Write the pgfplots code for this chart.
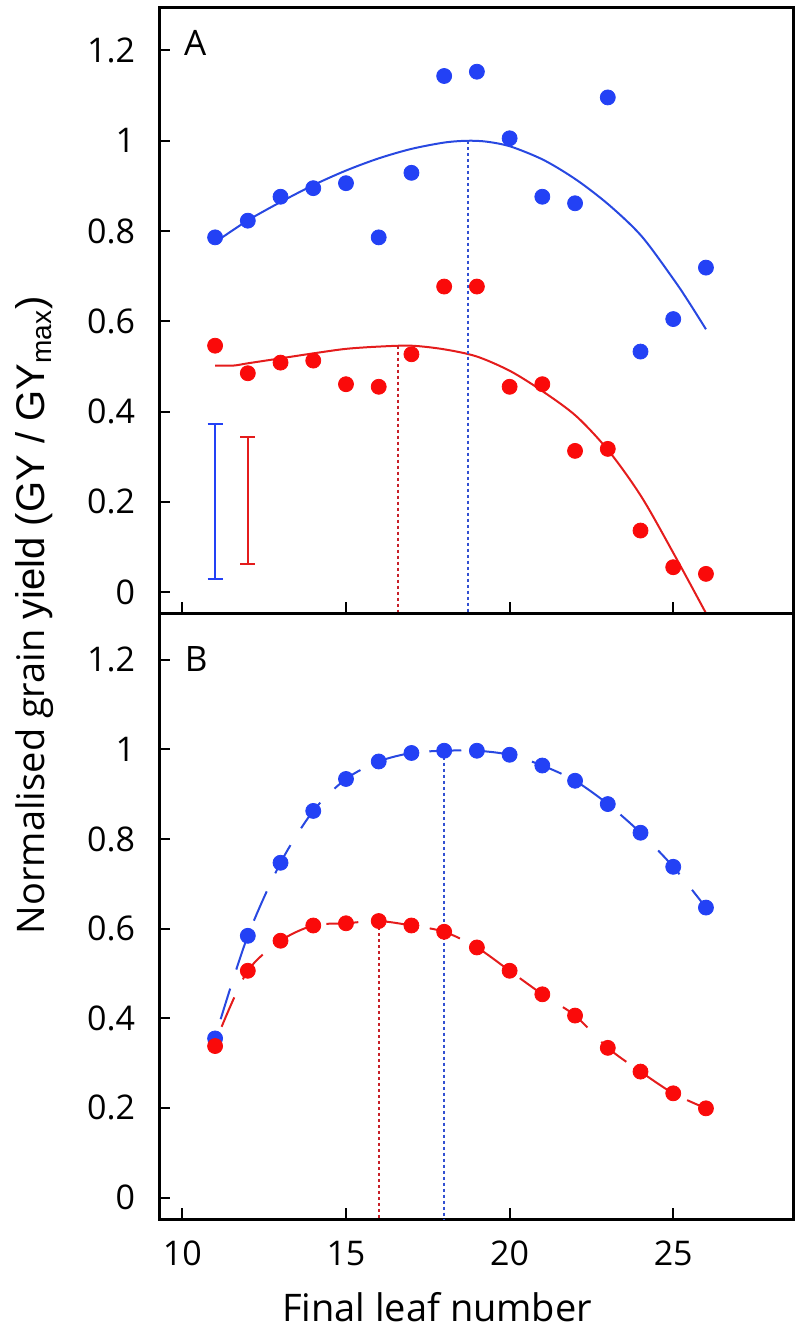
\documentclass[border=0pt]{standalone}
\usepackage{pgfplots}
\pgfplotsset{compat=1.18}
\usepackage{fontspec}
\setmainfont{Open Sans}
\newfontfamily\arialf{Liberation Sans}

\definecolor{mblue}{RGB}{35,65,245}
\definecolor{lblue}{RGB}{40,72,225}
\definecolor{dblue}{RGB}{50,80,210}
\definecolor{mred}{RGB}{250,10,10}
\definecolor{lred}{RGB}{228,28,28}
\definecolor{dred}{RGB}{200,32,40}

\pgfplotsset{
  panel/.style={
    scale only axis, width=317pt, height=303pt,
    xmin=9.30, xmax=28.67,
    axis line style={line width=1.5pt},
    tick style={line width=1pt, black},
    major tick length=5.5pt,
    tick align=inside, tick pos=left,
    xtick={10,15,20,25},
    ytick={0,0.2,0.4,0.6,0.8,1,1.2},
    /pgf/number format/assume math mode=true,
    ticklabel style={font=\fontsize{17}{20}\selectfont},
    yticklabel style={anchor=east, inner sep=0pt, xshift=-12pt},
    clip mode=individual,
  },
  dots/.style={only marks, mark=*, mark size=3.75pt, mark options={fill=#1, draw=#1}},
}

\begin{document}
\begin{tikzpicture}
% panel A: observed yields and fitted curves
\begin{axis}[panel, name=A, ymin=-0.0465, ymax=1.2957, xticklabels={}]
\addplot[lblue, line width=1pt, smooth] coordinates {
(11.22,0.786) (12.02,0.8245) (13.02,0.865) (14.01,0.902) (15.0,0.934)
(16.0,0.961) (17.0,0.982) (18.0,0.996) (18.7,1.0) (19.3,0.998)
(20.04,0.987) (21.05,0.957) (22.05,0.913) (23.05,0.857) (24.04,0.788)
(25.04,0.690) (25.5,0.640) (26.0,0.5825)
};
\addplot[lred, line width=1pt, smooth] coordinates {
(11.0,0.502) (11.56,0.502) (12.0,0.507) (13.0,0.518) (14.0,0.529)
(15.0,0.539) (16.0,0.544) (17.0,0.546) (18.0,0.538) (19.0,0.522)
(20.04,0.489) (21.05,0.443) (22.05,0.389) (23.05,0.311)
(24.04,0.210) (25.04,0.082) (26.0,-0.0465)
};
\addplot[dblue, line width=1pt, dash pattern=on 1.5pt off 1.5pt] coordinates {(18.72,1.0) (18.72,-0.0465)};
\addplot[dred, line width=1pt, dash pattern=on 1.5pt off 1.5pt] coordinates {(16.6,0.546) (16.6,-0.0465)};
% error bars
\addplot[mblue, line width=1pt] coordinates {(11,0.0295) (11,0.3727)};
\addplot[mblue, line width=1pt] coordinates {(10.77,0.3727) (11.23,0.3727)};
\addplot[mblue, line width=1pt] coordinates {(10.77,0.0295) (11.23,0.0295)};
\addplot[lred, line width=1pt] coordinates {(12,0.062) (12,0.344)};
\addplot[lred, line width=1pt] coordinates {(11.77,0.344) (12.23,0.344)};
\addplot[lred, line width=1pt] coordinates {(11.77,0.062) (12.23,0.062)};
\addplot[dots=mblue] coordinates {
(11,0.786) (12,0.823) (13,0.876) (14,0.895) (15,0.906) (16,0.786)
(17,0.929) (18,1.1435) (19,1.153) (20,1.0055) (21,0.876) (22,0.8615)
(23,1.096) (24,0.533) (25,0.605) (26,0.719)
};
\addplot[dots=mred] coordinates {
(11,0.546) (12,0.485) (13,0.5085) (14,0.513) (15,0.4607) (16,0.455)
(17,0.527) (18,0.677) (19,0.677) (20,0.455) (21,0.4607) (22,0.313)
(23,0.3174) (24,0.1365) (25,0.0553) (26,0.0405)
};
\node[font=\fontsize{17.5}{20}\selectfont, inner sep=0pt] at (axis cs:10.39,1.2166) {A};
\end{axis}

% panel B: simulated yields
\begin{axis}[panel, name=B, at={(A.south west)}, anchor=north west,
  ymin=-0.048, ymax=1.304,
  xticklabel style={anchor=base, yshift=-23pt},
  xlabel={Final leaf number},
  xlabel style={at={(axis description cs:0.438,0)}, anchor=base, yshift=-51pt,
    font=\fontsize{19}{22}\selectfont}]
\addplot[lblue, line width=1pt, smooth, dash pattern=on 16pt off 10pt] coordinates {
(11.17,0.398) (12,0.584) (13,0.747) (14,0.8627) (15,0.934) (16,0.973)
(17,0.992) (18,0.997) (19,0.997) (20,0.988) (21,0.964) (22,0.930)
(23,0.878) (24,0.814) (25,0.738) (26,0.647)
};
\addplot[lred, line width=1pt, smooth, dash pattern=on 16pt off 10pt] coordinates {
(11.2,0.381) (12,0.506) (13,0.573) (14,0.607) (15,0.612) (16,0.617)
(17,0.607) (18,0.593) (19,0.558) (20,0.506) (21,0.4535) (22,0.406)
(23,0.334) (24,0.281) (25,0.2325) (26,0.199)
};
\addplot[dblue, line width=1pt, dash pattern=on 1.5pt off 1.5pt] coordinates {(18,0.997) (18,-0.048)};
\addplot[dred, line width=1pt, dash pattern=on 1.5pt off 1.5pt] coordinates {(16,0.617) (16,-0.048)};
\addplot[dots=mblue] coordinates {
(11,0.355) (12,0.584) (13,0.747) (14,0.8627) (15,0.934) (16,0.973)
(17,0.992) (18,0.997) (19,0.997) (20,0.988) (21,0.964) (22,0.930)
(23,0.878) (24,0.814) (25,0.738) (26,0.647)
};
\addplot[dots=mred] coordinates {
(11,0.338) (12,0.506) (13,0.573) (14,0.607) (15,0.612) (16,0.617)
(17,0.607) (18,0.593) (19,0.558) (20,0.506) (21,0.4535) (22,0.406)
(23,0.334) (24,0.281) (25,0.2325) (26,0.199)
};
\node[font=\fontsize{17.5}{20}\selectfont, inner sep=0pt] at (axis cs:10.42,1.2009) {B};
\end{axis}

\node[rotate=90, anchor=base, font=\fontsize{19}{22}\selectfont]
  at ([xshift=-57.25pt,yshift=-1.1pt]A.south west)
  {Normalised grain {\arialf\fontsize{20}{22}\selectfont yield (GY / GY\textsubscript{max})}};

\pgfresetboundingbox
\path ([shift={(-79.75pt,3.65pt)}]A.north west) rectangle ([shift={(2.85pt,-58pt)}]B.south east);
\end{tikzpicture}
\end{document}
